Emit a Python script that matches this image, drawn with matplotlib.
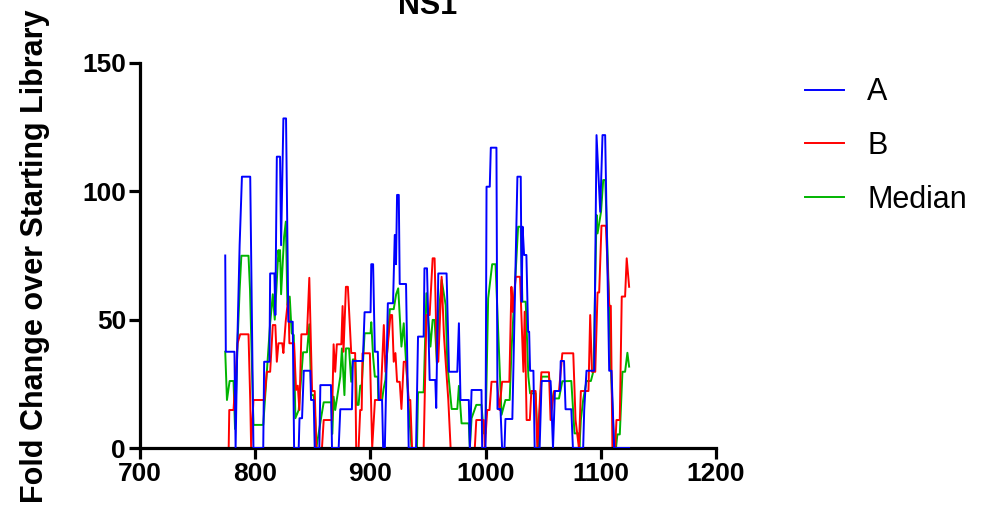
import matplotlib
matplotlib.use("Agg")
import matplotlib.pyplot as plt

plt.rcParams['font.family'] = ['Liberation Sans', 'DejaVu Sans']

# values (position, fold change)
a_x = [774, 774.5, 782, 783, 784.5, 786.5, 788.5, 795.7, 798.5, 807, 807.8, 812.4, 813, 816.7,
       817.5, 818.8, 821.6, 822.5, 824.5, 826.8, 828.8, 832.6, 833.8, 837.8, 838.5, 840.7, 842.2,
       847.9, 848.5, 850.8, 851.7, 855.7, 856.6, 865.8, 866.7, 872.5, 873.9, 884, 884.8, 893.5,
       895, 900.2, 900.8, 902.4, 903.9, 906.5, 907.4, 910.2, 911.1, 912.6, 915.2, 919.7, 921.2,
       922.3, 923.2, 924.7, 925.5, 931, 933.3, 939.7, 941.4, 946.3, 947, 949.2, 951.5, 956.4,
       957.2, 959, 966.2, 968.3, 975.5, 976.9, 978.3, 985.5, 986.4, 987.9, 996.5, 997.1, 1000,
       1000.9, 1003.7, 1004.6, 1009.5, 1010.4, 1013, 1014.4, 1016.5, 1017.3, 1023.3, 1027.7,
       1030.6, 1031.4, 1032.2, 1033.5, 1035.5, 1037, 1037.9, 1038.7, 1041.6, 1042.7, 1047,
       1048.7, 1056.5, 1058.6, 1060.3, 1064.7, 1065.3, 1068.2, 1069.5, 1074.5, 1075.9, 1084.8,
       1085.7, 1086.6, 1087.7, 1094.4, 1096.4, 1098, 1099.6, 1101.6, 1103.9, 1107.4, 1109.4,
       1111.7, 1124.7]
a_y = [75, 37.5, 37.5, 0, 41, 79, 105.7, 105.7, 0, 0, 33.6, 33.6, 68, 68,
       51.8, 113.5, 113.5, 79, 128.4, 128.4, 49.2, 49.2, 0, 0, 11.6, 11.6, 30.1,
       30.1, 18.7, 18.7, 0, 0, 24.5, 24.5, 0, 0, 15.1, 15.1, 33.9, 33.9,
       52.9, 52.9, 71.6, 71.6, 37.5, 37.5, 18.7, 18.7, 0, 0, 56.4, 56.4, 83,
       71.6, 98.6, 98.6, 63.9, 63.9, 0, 0, 43.4, 43.4, 70, 70, 26.5, 26.5,
       15.6, 68, 68, 29.7, 29.7, 48.6, 18.7, 18.7, 0, 22.6, 22.6, 0, 0,
       101.8, 101.8, 117, 117, 15.2, 15.2, 0, 0, 11.3, 11.3, 105.7,
       105.7, 57, 86.2, 75.2, 75.2, 45.3, 45.3, 30.1, 30.1, 0, 0,
       26.1, 26.1, 0, 22.2, 22.2, 33.9, 33.9, 15.1, 15.1, 0, 0,
       14.8, 21.8, 30.1, 30.1, 121.9, 107, 92, 121.9, 121.9, 30.1, 30.1,
       0, 0]

b_x = [773.5, 777, 777.5, 781.2, 784.7, 787, 794.2, 795.7, 796.5, 798.5, 808, 810.1, 813, 815.3,
       817.5, 818.8, 820.2, 823.5, 824.5, 826.5, 828.8, 829.7, 833.8, 835.5, 837, 838.4, 840.1,
       845, 847, 849.4, 851.7, 853.1, 858, 859.5, 866.7, 868.1, 869.5, 870.9, 874.8, 875.9,
       876.7, 878.8, 880.5, 883.4, 886.8, 887.7, 889.8, 891.2, 892.5, 893.2, 899.6, 901.6, 904,
       908.9, 911.7, 913.1, 917.5, 918.9, 920.3, 921.8, 923.2, 925.5, 927, 929, 931, 933.3,
       934.7, 936.2, 946.3, 948.7, 951.5, 954.1, 955.8, 957.8, 959, 961.9, 963.9, 965.4, 967.7,
       969.7, 990.7, 992, 998.5, 999.4, 1001.5, 1003.5, 1005.2, 1010, 1012.1, 1014.4, 1020.7,
       1022.5, 1023.7, 1026.2, 1030, 1032.9, 1034, 1035.7, 1038.5, 1039.8, 1043.5, 1045,
       1048.5, 1055.1, 1056.5, 1059.5, 1063.8, 1066.7, 1076.2, 1078.2, 1081.1, 1082.8, 1089.4,
       1090.9, 1092.4, 1095.3, 1097.3, 1098.7, 1100.7, 1104.5, 1107.4, 1108.8, 1110.2, 1112.6,
       1113.7, 1116.6, 1118.3, 1121.2, 1122.6, 1124.7]
b_y = [0, 0, 14.8, 14.8, 40.8, 44.3, 44.3, 18.7, 0, 18.7, 18.7, 29.7, 29.7, 47.9,
       47.9, 33.6, 40.8, 40.8, 37, 49.2, 59, 40.8, 40.8, 22.6, 24.3, 14.8, 44.3,
       44.3, 66.3, 22.2, 22.2, 0, 0, 10.9, 10.9, 40.4, 29.7, 40.4, 40.4, 55.3,
       37.5, 62.8, 62.8, 37, 37, 0, 0, 14.8, 14.8, 36.9, 36.9, 0, 18.7,
       18.7, 47.9, 29.7, 51.8, 51.8, 33.6, 37, 25.8, 25.8, 15.2, 33.6, 33.6, 18.7,
       18.7, 0, 0, 51.8, 51.8, 73.9, 73.9, 33.6, 33.6, 66.7, 44, 33.6, 18.7,
       0, 0, 10.9, 10.9, 0, 14.8, 14.8, 25.8, 25.8, 14.8, 25.8, 25.8,
       62.8, 53, 66.7, 66.7, 29.7, 53.1, 10.9, 10.9, 22.2, 22.2, 0,
       29.5, 29.5, 10.9, 22.2, 22.2, 36.9, 36.9, 10.9, 0, 22.2, 22.2,
       51.8, 29.7, 29.7, 60.6, 60.6, 86.6, 86.6, 55.4, 55.4, 0, 0,
       10.9, 10.9, 59, 59, 73.9, 62.8]

med_x = [774, 775.5, 777.8, 781.2, 782.5, 784.7, 786.5, 788, 794.2, 795.5, 797.1, 798.5, 807,
         810.1, 813, 815.3, 817, 820.2, 821, 821.6, 822.5, 825.1, 826.6, 828, 830, 831.7, 833.5,
         834.9, 837.8, 841.6, 845, 847, 848.7, 850.8, 852.2, 853.1, 857.4, 859.5, 866, 867,
         868.1, 869.5, 873.9, 875.3, 877.5, 878.8, 881.5, 883.4, 884.8, 887, 888.3, 889.8,
         891.2, 892.5, 895, 900.2, 900.8, 902.4, 903.9, 906.5, 906.9, 910.2, 911.5, 913.1,
         916.9, 920.3, 922.4, 924.2, 927, 929, 931.5, 934.2, 935.8, 940.5, 941.4, 946.3, 948.7,
         952.2, 954.1, 955.8, 957.8, 959, 961.9, 965.4, 966.8, 970.6, 975.5, 976.9, 979.2,
         985.5, 986.4, 987.9, 992, 996.5, 998.5, 1000, 1002.3, 1005.8, 1008.7, 1013.9, 1017.3,
         1021, 1022.5, 1028.3, 1030.6, 1032, 1034.9, 1037.2, 1038.7, 1043.5, 1045.5, 1048.7,
         1055.1, 1058, 1063.8, 1066.7, 1074.5, 1077.3, 1081.1, 1081.5, 1082.8, 1084.8, 1087.7,
         1091.5, 1093.8, 1096.4, 1097.3, 1100.3, 1102.2, 1104, 1107.4, 1109, 1111.7, 1113.3,
         1114.5, 1116.6, 1118.9, 1121.2, 1123.2, 1124.7]
med_y = [37.5, 18.7, 26.1, 26.1, 7.4, 41.4, 61.5, 74.9, 74.9, 61.9, 33.6, 9, 9,
         29.7, 48.6, 59.9, 50, 77.1, 73, 77.1, 59.9, 82.3, 88.2, 55.7, 59, 44.7, 44,
         11.6, 14.8, 37.3, 37.3, 48.2, 20.6, 20.6, 11, 0, 12.2, 17.8, 17.8, 5.5,
         20, 14.8, 27.8, 38.8, 20.6, 38.8, 38.8, 25.8, 34.5, 34.5, 16.8, 16.8,
         24.3, 24.3, 44.7, 44.7, 49, 35.6, 27.8, 27.8, 18.7, 18.7, 23, 26.5,
         54.1, 54.1, 59.9, 62.2, 39.5, 48.6, 30, 9.6, 0, 0, 21.7, 21.7, 60.3,
         39.5, 49.9, 49.9, 33, 50, 65.5, 55.7, 33, 15.2, 15.2, 24.2, 9.6,
         9.6, 0, 11.6, 16.8, 16.8, 5.7, 5.7, 58.3, 71.6, 71.6, 12.9, 18.7,
         18.7, 37.5, 86.2, 86.2, 57, 57, 27.8, 21.3, 21.3, 0, 27.8,
         27.8, 19.3, 19.3, 26, 26.1, 5.7, 5.7, 0, 10.9, 18.7, 26.1,
         26.1, 30.1, 90.8, 83.6, 92, 104.4, 104.4, 55.7, 29.7, 0, 0,
         5.3, 5.3, 29.7, 29.7, 37.1, 31.7]

x_ticks = [700, 800, 900, 1000, 1100, 1200]
y_ticks = [0, 50, 100, 150]

fig = plt.figure(figsize=(9.86, 5.12), dpi=100)
ax = fig.add_axes([0.142, 0.125, 0.584, 0.752])

ax.plot(a_x, a_y, color='#0000FF', lw=1.4, label='A', zorder=3)
ax.plot(b_x, b_y, color='#FF0000', lw=1.4, label='B', zorder=2)
ax.plot(med_x, med_y, color='#00B400', lw=1.4, label='Median', zorder=1)

ax.set_xlim(700, 1200)
ax.set_ylim(0, 150)
ax.set_xticks(x_ticks)
ax.set_yticks(y_ticks)
for s in ['top', 'right']:
    ax.spines[s].set_visible(False)
for s in ['left', 'bottom']:
    ax.spines[s].set_linewidth(2.3)
ax.tick_params(width=2.3, length=8, labelsize=19, pad=2)
for lab in ax.get_xticklabels() + ax.get_yticklabels():
    lab.set_fontweight('bold')

fig.text(35 / 986, 0.5, 'Fold Change over Starting Library', rotation=90,
         ha='center', va='center', fontsize=22, fontweight='bold')
fig.text(428 / 986, 1 - 14 / 512, 'NS1', ha='center', va='baseline',
         fontsize=22, fontweight='bold')

ax.legend(loc='upper left', bbox_to_anchor=(787 / 986 - 0.01, 1 - 50 / 512),
          bbox_transform=fig.transFigure, frameon=False, fontsize=22,
          handlelength=1.3, handletextpad=0.75, labelspacing=0.77)

fig.savefig('out.png', dpi=100)
